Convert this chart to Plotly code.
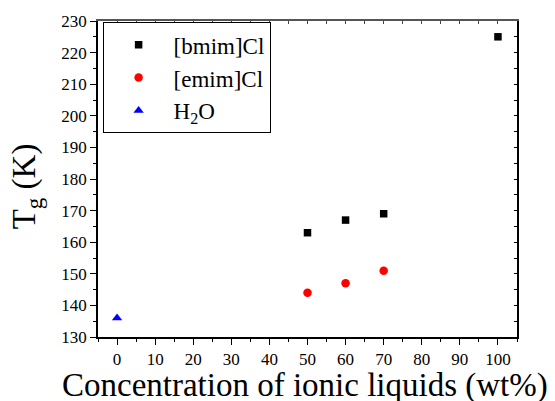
import plotly.graph_objects as go

bmim_x = [50, 60, 70, 100]
bmim_y = [163, 167, 169, 225]
emim_x = [50, 60, 70]
emim_y = [144, 147, 151]
h2o_x = [0]
h2o_y = [136]

x_ticks = list(range(0, 101, 10))
y_ticks = list(range(130, 231, 10))

x_title = "Concentration of ionic liquids (wt%)"
y_title = "T<sub>g</sub> (K)"

FONT = "Liberation Serif"

fig = go.Figure()
fig.add_trace(go.Scatter(x=bmim_x, y=bmim_y, mode="markers", name="[bmim]Cl",
                         marker=dict(symbol="square", size=7.5, color="black")))
fig.add_trace(go.Scatter(x=emim_x, y=emim_y, mode="markers", name="[emim]Cl",
                         marker=dict(symbol="circle", size=8.5, color="#ff0000")))
fig.add_trace(go.Scatter(x=h2o_x, y=h2o_y, mode="markers", name="H<sub>2</sub>O",
                         marker=dict(symbol="triangle-up", size=9, color="#0000ff")))
# invisible helper trace for the mirrored (top/right) axes with inward ticks
fig.add_trace(go.Scatter(x=bmim_x, y=bmim_y, mode="markers", xaxis="x2", yaxis="y2",
                         marker=dict(opacity=0), showlegend=False, hoverinfo="skip"))

# the page body adds an 8px margin, so the figure is 8px smaller and shifted
fig.update_layout(
    width=547, height=393,
    margin=dict(l=90, r=38, t=13, b=64, autoexpand=False),
    paper_bgcolor="white", plot_bgcolor="white",
    font=dict(family=FONT, color="black"),
    showlegend=True,
    legend=dict(x=0.011, y=0.996, xanchor="left", yanchor="top",
                bordercolor="black", borderwidth=1, bgcolor="white",
                font=dict(family=FONT, size=23, color="black"),
                itemwidth=60),
    xaxis=dict(range=[-5, 105], tickvals=x_ticks, ticks="outside", ticklen=6,
               tickwidth=1, tickcolor="black", showline=True, linecolor="black",
               linewidth=1.5, showgrid=False, zeroline=False,
               tickfont=dict(family=FONT, size=17, color="black"),
               minor=dict(dtick=5, tick0=0, ticks="outside", ticklen=3, tickcolor="black")),
    yaxis=dict(range=[130, 230], tickvals=y_ticks, ticks="outside", ticklen=6,
               tickwidth=1, tickcolor="black", showline=True, linecolor="black",
               linewidth=1.5, showgrid=False, zeroline=False,
               tickfont=dict(family=FONT, size=17, color="black"),
               minor=dict(dtick=5, tick0=130, ticks="outside", ticklen=3, tickcolor="black")),
    xaxis2=dict(range=[-5, 105], overlaying="x", side="top", anchor="y",
                tickvals=list(range(-5, 106, 5)), ticks="inside", ticklen=3,
                tickcolor="#444", showticklabels=False, showline=True,
                linecolor="#555", linewidth=2, showgrid=False, zeroline=False),
    yaxis2=dict(range=[130, 230], overlaying="y", side="right", anchor="x",
                tickvals=list(range(130, 231, 5)), ticks="inside", ticklen=3,
                tickcolor="black", showticklabels=False, showline=True,
                linecolor="black", linewidth=1.5, showgrid=False, zeroline=False),
    annotations=[
        dict(text=x_title, xref="paper", yref="paper", x=0.493, y=-0.088,
             xanchor="center", yanchor="top", showarrow=False,
             font=dict(family=FONT, size=33, color="black")),
        dict(text=y_title, xref="paper", yref="paper", x=-0.170, y=0.476,
             xanchor="center", yanchor="middle", showarrow=False, textangle=-90,
             font=dict(family=FONT, size=33, color="black")),
    ],
)

fig.write_html("out.html")
